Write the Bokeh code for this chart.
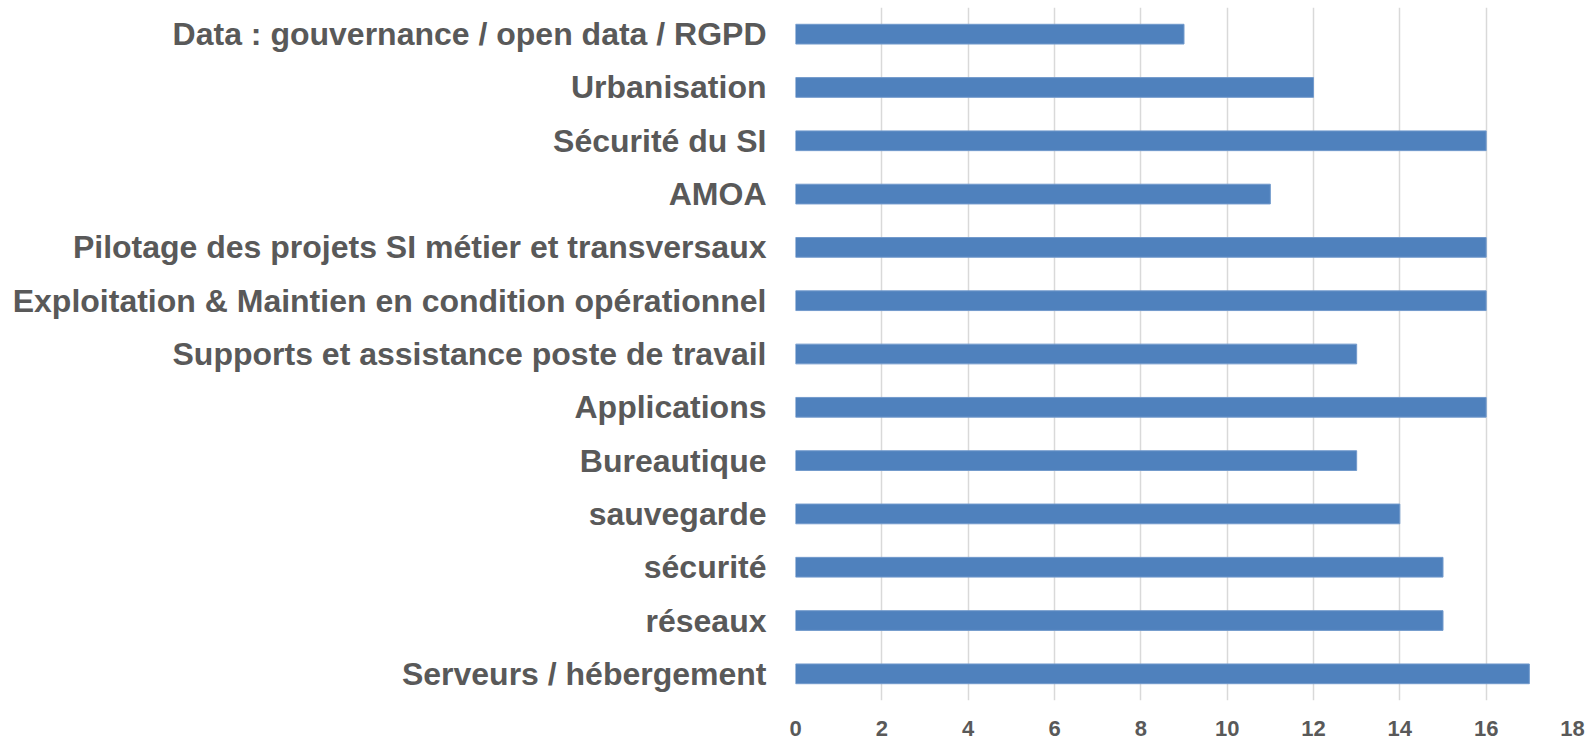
from bokeh.plotting import figure
from bokeh.models import FactorRange, Range1d, FixedTicker, ColumnDataSource
from bokeh.embed import file_html
from bokeh.resources import INLINE

categories = [
    "Data : gouvernance / open data / RGPD",
    "Urbanisation",
    "Sécurité du SI",
    "AMOA",
    "Pilotage des projets SI métier et transversaux",
    "Exploitation & Maintien en condition opérationnel",
    "Supports et assistance poste de travail",
    "Applications",
    "Bureautique",
    "sauvegarde",
    "sécurité",
    "réseaux",
    "Serveurs / hébergement",
]
values = [9, 12, 16, 11, 16, 16, 13, 16, 13, 14, 15, 15, 17]
x_ticks = [0, 2, 4, 6, 8, 10, 12, 14, 16, 18]

source = ColumnDataSource(data=dict(cat=categories, val=values))

p = figure(
    width=1596, height=744,
    y_range=FactorRange(*list(reversed(categories)), range_padding=0),
    x_range=Range1d(0, 18),
    output_backend="svg", toolbar_location=None,
    min_border_left=795, min_border_right=24, min_border_top=7,
    min_border_bottom=44,
)

p.hbar(y="cat", right="val", left=0, height=0.37, source=source,
       fill_color="#4F81BD", line_color="#729ACC", line_width=1)

p.outline_line_color = None
p.ygrid.grid_line_color = None
p.xgrid.grid_line_color = "#D9D9D9"
p.xgrid.grid_line_width = 1.5

p.xaxis.ticker = FixedTicker(ticks=x_ticks)
p.xaxis.axis_line_color = None
p.xaxis.major_tick_line_color = None
p.xaxis.minor_tick_line_color = None
p.xaxis.major_label_standoff = 14
p.xaxis.major_label_text_font = "Liberation Sans"
p.xaxis.major_label_text_font_style = "bold"
p.xaxis.major_label_text_font_size = "22px"
p.xaxis.major_label_text_color = "#595959"

p.yaxis.axis_line_color = None
p.yaxis.major_tick_line_color = None
p.yaxis.minor_tick_line_color = None
p.yaxis.major_label_standoff = 23
p.yaxis.major_label_text_font = "Liberation Sans"
p.yaxis.major_label_text_font_style = "bold"
p.yaxis.major_label_text_font_size = "32px"
p.yaxis.major_label_text_color = "#595959"

open("out.html", "w").write(file_html(p, INLINE))
